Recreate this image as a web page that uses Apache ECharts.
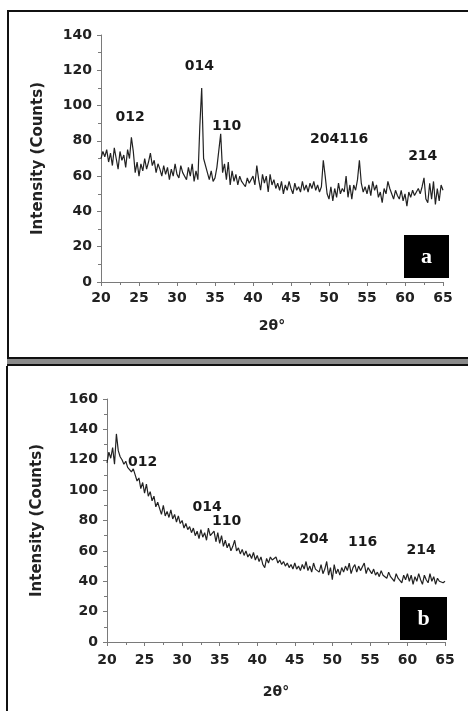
<!DOCTYPE html>
<html>
<head>
<meta charset="utf-8">
<script src="https://cdn.jsdelivr.net/npm/echarts@6/dist/echarts.min.js"></script>
<style>html,body{margin:0;padding:0;background:#fff}#c{width:468px;height:711px}</style>
</head>
<body>
<div id="c"></div>
<script>
// 2θ grid: 20° to 65° in 0.25° steps (181 samples)
const thetaStart = 20, thetaStep = 0.25;

// Panel (a) intensities, 4 samples per degree (x.00, x.25, x.50, x.75)
const intensityA = [
  70,74,71,75, 68,73,66,76, 70,64,74,69, 72,65,75,70, 82,74,62,68,
  60,67,63,70, 64,68,73,66, 69,62,67,64, 60,66,61,65, 58,64,60,67,
  61,59,66,62, 63,58,65,60, 67,57,63,58, 88,110,70,69, 62,58,63,57,
  59,65,66,84, 62,67,58,68, 55,63,57,61, 55,60,57,58, 54,59,56,57,
  60,55,66,58, 52,61,56,60, 51,61,55,58, 53,56,52,57, 50,55,52,57,
  53,50,56,52, 54,51,57,52, 55,51,56,53, 57,52,55,51, 54,69,60,50,
  47,54,46,53, 48,56,50,53, 51,60,48,55, 47,55,52,58, 69,56,51,54,
  50,55,49,57, 52,55,48,51, 45,53,50,57, 53,50,47,52, 49,47,52,46,
  50,43,51,48, 52,49,51,53, 50,54,59,47, 45,56,47,57, 44,53,46,55,
  52
];

// Panel (b) intensities
const intensityB = [
  118,125,121,128, 117,137,126,122, 120,117,119,115, 116,112,114,110, 106,108,101,105,
  98,104,96,99, 93,96,89,92, 88,84,90,83, 86,82,87,81, 84,79,83,78,
  80,75,78,74, 76,72,75,70, 73,68,74,69, 72,67,75,70, 69,73,66,72,
  65,70,63,67, 62,65,60,63, 67,60,62,58, 61,57,60,56, 58,55,59,54,
  57,53,56,51, 49,55,52,56, 54,53,56,52, 54,51,53,50, 52,49,51,48,
  52,48,50,47, 51,48,53,47, 50,46,52,48, 49,46,51,45, 48,53,44,49,
  41,51,45,48, 44,49,46,50, 47,52,45,49, 51,46,50,47, 48,52,45,49,
  47,45,48,44, 46,43,47,44, 45,42,46,43, 44,40,45,42, 43,39,44,41,
  45,40,44,38, 43,40,45,41, 38,44,41,39, 45,40,43,38, 42,40,41,39,
  40
];

// Peak (hkl) annotations
const peakNamesA = ['012','014','110','204116','214'];
const peakXA = [23.9, 33.0, 36.6, 51.4, 62.4];
const peakYA = [93, 122, 88, 80.5, 71];

const peakNamesB = ['012','014','110','204','116','214'];
const peakXB = [24.8, 33.4, 36.0, 47.6, 54.1, 61.9];
const peakYB = [117.8, 88.2, 79, 67, 65, 60];

const xTicks = [20,25,30,35,40,45,50,55,60,65];
const xTitle = '2θ°';
const yTitle = 'Intensity (Counts)';

function pairs(vals){ return vals.map((v,i)=>[thetaStart + i*thetaStep, v]); }
function labelPts(names, xs, ys){ return names.map((n,i)=>({name:n, value:[xs[i], ys[i]]})); }

const txt = '#222';
const axisCol = '#7a7a7a';
const fontFam = '"DejaVu Sans", sans-serif';

function xAx(gi, gap, margin){
  return {
    type:'value', gridIndex:gi, min:20, max:65, interval:5,
    name:xTitle, nameLocation:'middle', nameGap:gap,
    nameTextStyle:{color:txt, fontFamily:fontFam, fontWeight:'bold', fontSize:14},
    axisLine:{show:true, lineStyle:{color:axisCol, width:1}},
    axisTick:{show:true, length:4, lineStyle:{color:axisCol}},
    minorTick:{show:true, splitNumber:2, length:3, lineStyle:{color:axisCol}},
    axisLabel:{color:txt, fontFamily:fontFam, fontWeight:'bold', fontSize:14, margin:margin,
      formatter:v=>String(v)},
    splitLine:{show:false}
  };
}
function yAx(gi, max, gap){
  return {
    type:'value', gridIndex:gi, min:0, max:max, interval:20,
    name:yTitle, nameLocation:'middle', nameGap:gap,
    nameTextStyle:{color:txt, fontFamily:fontFam, fontWeight:'bold', fontSize:15},
    axisLine:{show:true, lineStyle:{color:axisCol, width:1}},
    axisTick:{show:true, length:4, lineStyle:{color:axisCol}},
    minorTick:{show:true, splitNumber:2, length:3, lineStyle:{color:axisCol}},
    axisLabel:{color:txt, fontFamily:fontFam, fontWeight:'bold', fontSize:14, margin:9},
    splitLine:{show:false}
  };
}
function lineSeries(idx, vals){
  return {type:'line', xAxisIndex:idx, yAxisIndex:idx, data:pairs(vals), showSymbol:false,
    lineStyle:{color:'#222', width:1.2}, silent:true};
}
function labelSeries(idx, names, xs, ys){
  return {type:'scatter', xAxisIndex:idx, yAxisIndex:idx, data:labelPts(names,xs,ys),
    symbolSize:1, itemStyle:{color:'rgba(255,255,255,0)'}, silent:true,
    label:{show:true, position:[0,0], align:'center', verticalAlign:'middle',
      formatter:p=>p.name, color:'#1a1a1a', opacity:1, textBorderWidth:0,
      fontFamily:fontFam, fontWeight:'bold', fontSize:14}};
}

const chart = echarts.init(document.getElementById('c'), null, {renderer:'canvas'});
chart.setOption({
  animation:false,
  backgroundColor:'#fff',
  grid:[
    {left:101, right:25, top:35, bottom:429},
    {left:107, right:23, top:399, bottom:69}
  ],
  xAxis:[xAx(0,37,9), xAx(1,43,11)],
  yAxis:[yAx(0,140,55), yAx(1,160,62)],
  series:[
    lineSeries(0,intensityA),
    lineSeries(1,intensityB),
    labelSeries(0,peakNamesA,peakXA,peakYA),
    labelSeries(1,peakNamesB,peakXB,peakYB)
  ],
  graphic:[
    // panel frames
    {type:'rect', shape:{x:7, y:10, width:2, height:348}, style:{fill:'#111'}},
    {type:'rect', shape:{x:7, y:10, width:461, height:2}, style:{fill:'#111'}},
    {type:'rect', shape:{x:7, y:357, width:461, height:9}, style:{fill:'#8a8a8a'}},
    {type:'rect', shape:{x:7, y:357, width:461, height:2}, style:{fill:'#111'}},
    {type:'rect', shape:{x:7, y:364, width:461, height:2}, style:{fill:'#111'}},
    {type:'rect', shape:{x:6, y:366, width:2, height:345}, style:{fill:'#111'}},
    // panel tags
    {type:'rect', shape:{x:404, y:235, width:45, height:43}, style:{fill:'#000'}},
    {type:'text', x:426.5, y:257, style:{text:'a', fill:'#fff', font:'bold 22px "Liberation Serif", serif', align:'center', verticalAlign:'middle'}},
    {type:'rect', shape:{x:400, y:597, width:47, height:43}, style:{fill:'#000'}},
    {type:'text', x:423.5, y:619, style:{text:'b', fill:'#fff', font:'bold 22px "Liberation Serif", serif', align:'center', verticalAlign:'middle'}}
  ]
});
</script>
</body>
</html>
